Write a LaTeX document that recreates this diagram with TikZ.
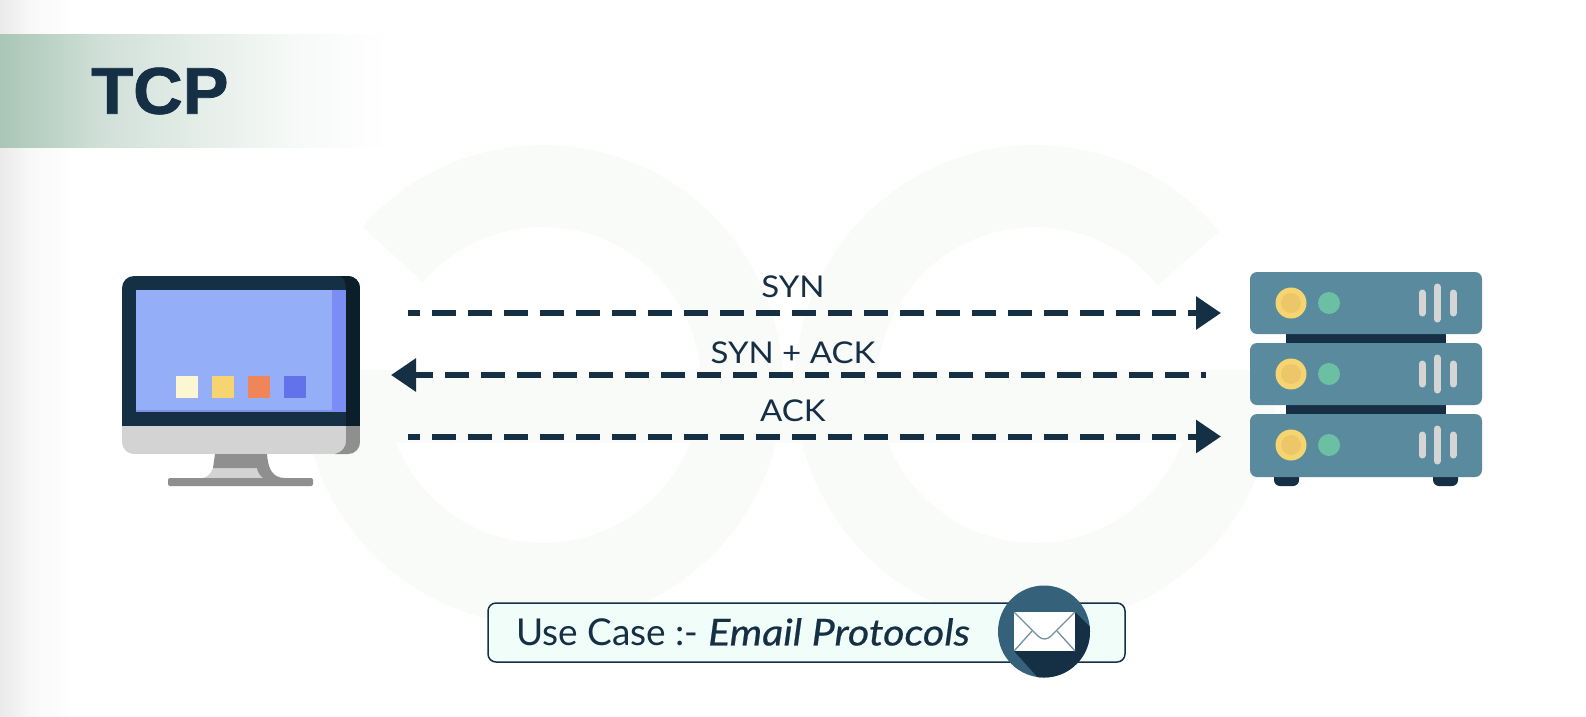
\documentclass[tikz,border=0pt]{standalone}
\usepackage{fontspec}
\usepackage{graphicx}
\setmainfont{Lato}
\newfontfamily\titlefont[BoldFeatures={FakeBold=1.2}]{Liberation Sans}
\newfontfamily\emailfont[ItalicFeatures={FakeBold=0.5}]{Lato}
\usetikzlibrary{arrows.meta}
\definecolor{navy}{HTML}{152F45}
\definecolor{wm}{HTML}{F9FBF9}
\definecolor{frameD}{HTML}{0B1F2B}
\definecolor{greyD}{HTML}{8F8F8F}
\definecolor{greyL}{HTML}{D3D3D3}
\definecolor{scr}{HTML}{94AEF8}
\definecolor{scrD}{HTML}{7B8DF5}
\definecolor{scrB}{HTML}{7B93E0}
\definecolor{sqA}{HTML}{FDF6D3}
\definecolor{sqC}{HTML}{EF8559}
\definecolor{sqD}{HTML}{6272EA}
\definecolor{srv}{HTML}{5A8A9E}
\definecolor{ylw}{HTML}{F6D570}
\definecolor{ylwD}{HTML}{EEC66A}
\definecolor{grn}{HTML}{6BBFA3}
\definecolor{bar}{HTML}{D5D5D5}
\definecolor{mailc}{HTML}{36617A}
\definecolor{bannerA}{HTML}{A9C6B6}
\definecolor{bannerB}{HTML}{CFDFD7}
\definecolor{bannerC}{HTML}{E4EDE8}
\definecolor{bannerD}{HTML}{F6F9F7}
\definecolor{boxfill}{HTML}{F0FDF8}
\definecolor{edgeA}{HTML}{EAEAEA}
\definecolor{edgeB}{HTML}{F8F8F8}
\pgfdeclarehorizontalshading{bannerfade}{100bp}{color(0bp)=(bannerA);color(25bp)=(bannerA);color(37.5bp)=(bannerB);color(50bp)=(bannerC);color(62.5bp)=(bannerD);color(75bp)=(white);color(100bp)=(white)}
\pgfdeclarehorizontalshading{edgefade}{100bp}{color(0bp)=(edgeA);color(25bp)=(edgeA);color(45bp)=(edgeB);color(75bp)=(white);color(100bp)=(white)}
\tikzset{
  flow/.style={draw=navy,line width=6pt,dash pattern=on 24pt off 12pt},
  lbl/.style={text=navy,inner sep=0pt,anchor=center,xscale=1.1,font=\fontsize{30}{30}\selectfont},
  srvunit/.style={fill=srv,rounded corners=7pt},
  srvbar/.style={draw=bar,line width=7pt,line cap=round},
  wmring/.style={draw=wm,line width=82pt},
}
\begin{document}
\begin{tikzpicture}[x=1pt,y=-1pt]
\useasboundingbox (0,0) rectangle (1586,716);
\fill[white] (0,0) rectangle (1586,716);
% page edge shade
\shade[shading=edgefade] (0,0) rectangle (75,716);
% banner
\shade[shading=bannerfade] (0,34) rectangle (390,147);
% watermark
\draw[wmring] plot[smooth,domain=41:358,samples=70] ({543-199*cos(\x)},{385-199*sin(\x)});
\draw[wmring] plot[smooth,domain=39.5:358,samples=70] ({1035+199*cos(\x)},{385-199*sin(\x)});
\fill[wm] (303,370) rectangle (1275,443);
% title
\node[inner sep=0pt,anchor=west,text=navy,xscale=1.04] (title) at (91,91) {\titlefont\bfseries\fontsize{66}{66}\selectfont TCP};
% monitor
\begin{scope}
\clip[rounded corners=12pt] (122,276) rectangle (360,454);
\fill[navy] (122,276) rectangle (360,426);
\fill[greyL] (122,426) rectangle (360,454);
\fill[frameD] (340,276) .. controls (344,278) and (346,282) .. (346,290) -- (346,426) -- (360,426) -- (360,276) -- cycle;
\fill[greyD] (346,426) -- (360,426) -- (360,454) -- (335,454) .. controls (342,452) and (346,448) .. (346,440) -- cycle;
\end{scope}
\fill[scr] (136,290) rectangle (346,412);
\fill[scrB] (136,410) rectangle (346,412);
\fill[scrD] (332,290) rectangle (346,412);
\fill[sqA] (176,376) rectangle (198,398);
\fill[ylw] (212,376) rectangle (234,398);
\fill[sqC] (248,376) rectangle (270,398);
\fill[sqD] (284,376) rectangle (306,398);
% stand
\fill[greyL] (213,468) .. controls (211,474) and (207,477) .. (203,478) -- (263,478) .. controls (259,475) and (257,470) .. (257,468) -- cycle;
\fill[greyD] (215,454) -- (267,454) .. controls (268,468) and (272,478) .. (285,478) -- (263,478) .. controls (259,475) and (257,470) .. (257,468) -- (213,468) -- cycle;
\fill[greyD,rounded corners=2pt] (168,478) rectangle (313,486);
% server
\fill[navy] (1286,332) rectangle (1446,345);
\fill[navy] (1286,403) rectangle (1446,416);
\fill[navy,rounded corners=6pt] (1274,470) -- (1274,486) -- (1299,486) -- (1299,470) -- cycle;
\fill[navy,rounded corners=6pt] (1433,470) -- (1433,486) -- (1458,486) -- (1458,470) -- cycle;
\foreach \t/\b/\c in {272/334/303,343/405/374,414/477/445}{
  \fill[srvunit] (1250,\t) rectangle (1482,\b);
  \fill[ylw] (1291,\c) circle[radius=15.5pt];
  \fill[ylwD] (1291,\c) circle[radius=10pt];
  \fill[grn] (1329,\c) circle[radius=11pt];
  \draw[srvbar] (1422,\c-10) -- (1422,\c+10);
  \draw[srvbar] (1437,\c-16) -- (1437,\c+16);
  \draw[srvbar] (1453,\c-10) -- (1453,\c+10);
}
% connectors
\coordinate (synA) at (408,313);
\coordinate (synB) at (1221,313);
\coordinate (saA) at (1206,375);
\coordinate (saB) at (391,375);
\coordinate (ackA) at (408,436.5);
\coordinate (ackB) at (1221,436.5);
\draw[flow,dash phase=12pt,-{Triangle[length=25pt,width=32pt]}] (synA) -- (synB);
\draw[flow,dash phase=6pt,{Triangle[length=25pt,width=32pt]}-] (saB) -- (saA);
\draw[flow,dash phase=12pt,-{Triangle[length=25pt,width=32pt]}] (ackA) -- (ackB);
\node[lbl] (syn) at (793,287) {SYN};
\node[lbl] (synack) at (793,353) {SYN + ACK};
\node[lbl] (ack) at (793,411) {ACK};
% use case box
\draw[navy,line width=1.5pt,fill=boxfill,rounded corners=8pt] (488,603) rectangle (1125,662);
\node[inner sep=0pt,anchor=west,text=navy,font=\fontsize{37}{37}\selectfont] (usecase) at (516,632) {Use Case :- \scalebox{1.115}[1]{\emailfont\itshape Email Protocols}};
% mail icon
\begin{scope}
\clip (1044,631.5) circle[radius=46pt];
\fill[mailc] (998,585) rectangle (1090,678);
\fill[navy] (1075,612) -- (1108,645) -- (1108,720) -- (1058,700) -- (1014,651) -- cycle;
\end{scope}
\fill[white] (1014,612) rectangle (1075,651);
\draw[mailc!70,line width=1.3pt] (1014,612) -- (1038,636) .. controls (1042,640) and (1047,640) .. (1051,636) -- (1075,612);
\draw[mailc!70,line width=1.3pt] (1014,651) -- (1032,631);
\draw[mailc!70,line width=1.3pt] (1075,651) -- (1057,631);
\end{tikzpicture}
\end{document}
